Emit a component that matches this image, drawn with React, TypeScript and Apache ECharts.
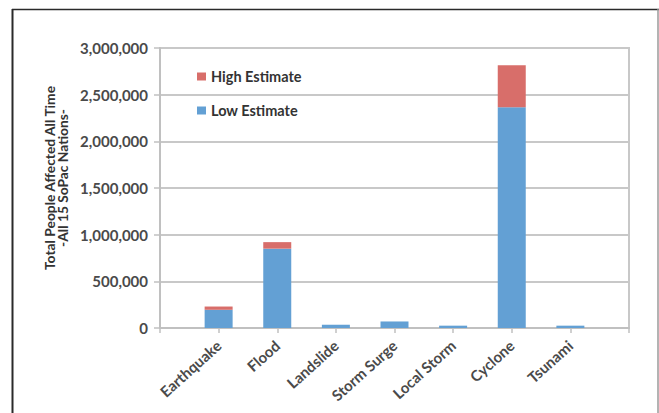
import React, { useEffect, useRef } from "react";
import * as echarts from "echarts";

const categories = ["Earthquake", "Flood", "Landslide", "Storm Surge", "Local Storm", "Cyclone", "Tsunami"];
const lowEstimate = [195000, 850000, 35000, 70000, 25000, 2365000, 25000];
const highEstimateExtra = [35000, 70000, 0, 0, 0, 450000, 0];
const yTicks = { min: 0, max: 3000000, interval: 500000 };

const FONT = "Lato";
const TEXT = "#4a4a4a";

export default function App() {
  const ref = useRef<HTMLDivElement>(null);
  useEffect(() => {
    if (!ref.current) return;
    const chart = echarts.init(ref.current, null, { renderer: "svg" });
    const cats = ["", ...categories, ""];
    const pad = (arr: number[]) => ["-", ...arr.map((v) => (v === 0 ? "-" : v)), "-"];
    chart.setOption({
      animation: false,
      backgroundColor: "#ffffff",
      grid: {
        left: 160,
        right: 30,
        top: 48,
        bottom: 85,
        show: true,
        borderColor: "#c8c8c8",
        borderWidth: 2,
      },
      legend: {
        orient: "vertical",
        left: 192,
        top: 64,
        itemWidth: 9,
        itemHeight: 8,
        itemGap: 19,
        icon: "rect",
        textStyle: { fontFamily: FONT, fontSize: 14.5, color: "#333", fontWeight: "bold" },
        data: ["High Estimate", "Low Estimate"],
      },
      xAxis: {
        type: "category",
        data: cats,
        boundaryGap: false,
        axisLine: { lineStyle: { color: "#c0c0c0", width: 2 } },
        axisTick: { show: true, length: 5, interval: 0, lineStyle: { color: "#c0c0c0", width: 1.5 } },
        axisLabel: {
          interval: 0,
          rotate: 42,
          margin: 15,
          fontFamily: FONT,
          fontSize: 15,
          fontWeight: "bold",
          color: TEXT,
        },
        splitLine: { show: false },
      },
      yAxis: {
        type: "value",
        min: yTicks.min,
        max: yTicks.max,
        interval: yTicks.interval,
        axisLine: { show: true, lineStyle: { color: "#c0c0c0", width: 2 } },
        axisTick: { show: true, length: 6, lineStyle: { color: "#c0c0c0", width: 1.5 } },
        axisLabel: {
          margin: 12,
          fontFamily: FONT,
          fontSize: 15,
          fontWeight: "bold",
          color: TEXT,
          formatter: (v: number) => v.toLocaleString("en-US"),
        },
        splitLine: { show: true, lineStyle: { color: "#c8c8c8", width: 2 } },
      },
      series: [
        {
          name: "Low Estimate",
          type: "bar",
          stack: "total",
          barWidth: 28,
          data: pad(lowEstimate),
          itemStyle: { color: "#63a0d4" },
        },
        {
          name: "High Estimate",
          type: "bar",
          stack: "total",
          barWidth: 28,
          data: pad(highEstimateExtra),
          itemStyle: { color: "#d86e6a" },
        },
      ],
      graphic: [
        {
          type: "line",
          shape: { x1: 12, y1: 9.5, x2: 659, y2: 9.5 },
          style: { stroke: "#2a2a2a", lineWidth: 1.5 },
        },
        {
          type: "line",
          shape: { x1: 12.5, y1: 9, x2: 12.5, y2: 413 },
          style: { stroke: "#2a2a2a", lineWidth: 2 },
        },
        {
          type: "line",
          shape: { x1: 658, y1: 9, x2: 658, y2: 413 },
          style: { stroke: "#9a9a9a", lineWidth: 1.5 },
        },
        {
          type: "text",
          x: 56,
          y: 178,
          rotation: Math.PI / 2,
          style: {
            text: "Total People Affected All Time\n-All 15 SoPac Nations-",
            fontFamily: FONT,
            fontSize: 13.8,
            fontWeight: "bold",
            fill: "#333",
            align: "center",
            verticalAlign: "middle",
            lineHeight: 12.5,
          },
        },
      ],
    });
    return () => chart.dispose();
  }, []);
  return (
    <div
      ref={ref}
      style={{ position: "fixed", left: 0, top: 0, width: 659, height: 413 }}
    />
  );
}
